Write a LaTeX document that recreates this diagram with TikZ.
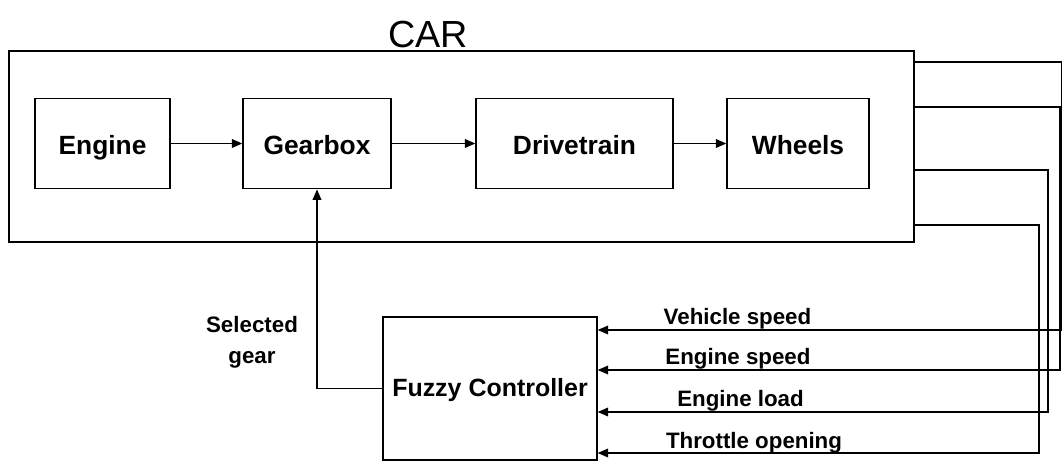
\documentclass[tikz,border=0pt]{standalone}
\usepackage{fontspec}
\setmainfont{Liberation Sans}
\usetikzlibrary{
    positioning,
    arrows.meta
}
\tikzset{
    >={Triangle[length=6pt,width=5pt]},
    block/.style={
        draw,
        minimum height=1.81cm,
        inner sep=2pt,
        text height=15pt,
        text depth=2pt,
        font=\fontsize{15}{18}\selectfont\bfseries
    },
    signal/.style={
        font=\fontsize{12.7}{17.5}\selectfont\bfseries,
        inner sep=1pt
    }
}

\begin{document}
\begin{tikzpicture}[
    x=0.02cm, y=-0.02cm,
    line width=0.8pt
]
    \useasboundingbox (0,0) rectangle (1062,462);

    % Coche
    \node[draw, minimum width=18.1cm, minimum height=3.82cm] (car) at (461.5,146.5) {};
    \node[font=\fontsize{21.5}{24}\selectfont] (carlbl) at (428,35) {CAR};

    % Bloques
    \node[block, minimum width=2.7cm]  (en) at (102.5,143.5) {Engine};
    \node[block, minimum width=2.96cm] (gb) at (317,143.5)   {Gearbox};
    \node[block, minimum width=3.94cm] (dt) at (574.5,143.5) {Drivetrain};
    \node[block, minimum width=2.84cm] (wh) at (798,143.5)   {Wheels};

    % Controlador
    \node[block, minimum width=4.28cm, minimum height=2.86cm,
          text height=12pt, text depth=3pt,
          font=\fontsize{14.2}{17}\selectfont\bfseries] (fc) at (490,388.5) {Fuzzy Controller};

    % Cadena de potencia
    \draw[->] (en) -- (gb);
    \draw[->] (gb) -- (dt);
    \draw[->] (dt) -- (wh);

    % Marcha seleccionada
    \draw[->] (fc.west) -| (gb.south);
    \node[signal, align=center] (sg) at (252,342) {Selected\\gear};

    % Salidas del coche
    \coordinate (o1) at (car.east |- 0,62);
    \coordinate (o2) at (car.east |- 0,107);
    \coordinate (o3) at (car.east |- 0,170);
    \coordinate (o4) at (car.east |- 0,225);

    % Entradas del controlador
    \coordinate (i1) at (fc.east |- 0,330);
    \coordinate (i2) at (fc.east |- 0,370);
    \coordinate (i3) at (fc.east |- 0,412);
    \coordinate (i4) at (fc.east |- 0,453);

    % Columnas de retorno
    \coordinate (k1) at (1062,0);
    \coordinate (k2) at (1060,0);
    \coordinate (k3) at (1048,0);
    \coordinate (k4) at (1039,0);

    % Realimentacion
    \draw[->] (o1) -- (o1 -| k1) |- (i1);
    \draw[->] (o2) -- (o2 -| k2) |- (i2);
    \draw[->] (o3) -- (o3 -| k3) |- (i3);
    \draw[->] (o4) -- (o4 -| k4) |- (i4);

    % Etiquetas
    \node[signal] (vs) at (737.5,319) {Vehicle speed};
    \node[signal] (es) at (738,359)   {Engine speed};
    \node[signal] (el) at (740.5,401) {Engine load};
    \node[signal] (to) at (754,443)   {Throttle opening};

\end{tikzpicture}
\end{document}
